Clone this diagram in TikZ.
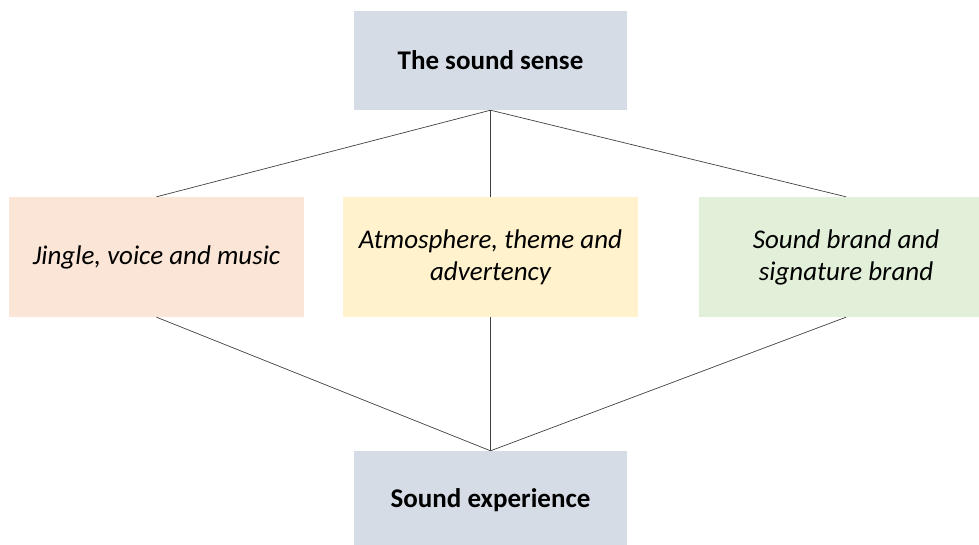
\documentclass[tikz,border=0pt]{standalone}
\usepackage{fontspec}
\setmainfont{Carlito}
\usepackage{xcolor}
\usepackage{tikz}
\definecolor{headgray}{HTML}{D6DCE5}
\definecolor{peach}{HTML}{FBE5D6}
\definecolor{butter}{HTML}{FFF2CC}
\definecolor{mint}{HTML}{E2F0D9}
\tikzstyle{centered} = [align=center, text centered]
\tikzstyle{sbox} = [centered, rectangle, inner sep=0pt]
\tikzset{
  % box styles
  sense/.style={sbox, fill=headgray, minimum width=273pt, minimum height=99pt, font=\fontsize{27}{32}\selectfont\bfseries},
  kind/.style={sbox, minimum width=295pt, minimum height=120pt, font=\fontsize{27}{32}\selectfont\itshape},
  jingle/.style={kind, fill=peach},
  atmos/.style={kind, fill=butter},
  brand/.style={kind, fill=mint},
  % edge styles
  link/.style={draw=black!75, line width=0.7pt},
}
\begin{document}
\begin{tikzpicture}[x=1pt,y=-1pt]
        \useasboundingbox (0,0) rectangle (979,545);
        % top
        \node(Sense)[sense] at (490.5,60.5) {The sound sense};
        % middle row
        \node(Jingle)[jingle] at (156.5,257) {Jingle, voice and music};
        \node(Atmos)[atmos] at (490.5,257) {Atmosphere, theme and\\advertency};
        \node(Brand)[brand] at (846,257) {Sound brand and\\signature brand};
        % bottom
        \node(Exp)[sense] at (490.5,500.5) {Sound experience};
        % links
        \foreach \k in {Jingle,Atmos,Brand}{
            \draw[link] (Sense.south) -- (\k.north);
            \draw[link] (\k.south) -- (Exp.north);
        }
\end{tikzpicture}
\end{document}
